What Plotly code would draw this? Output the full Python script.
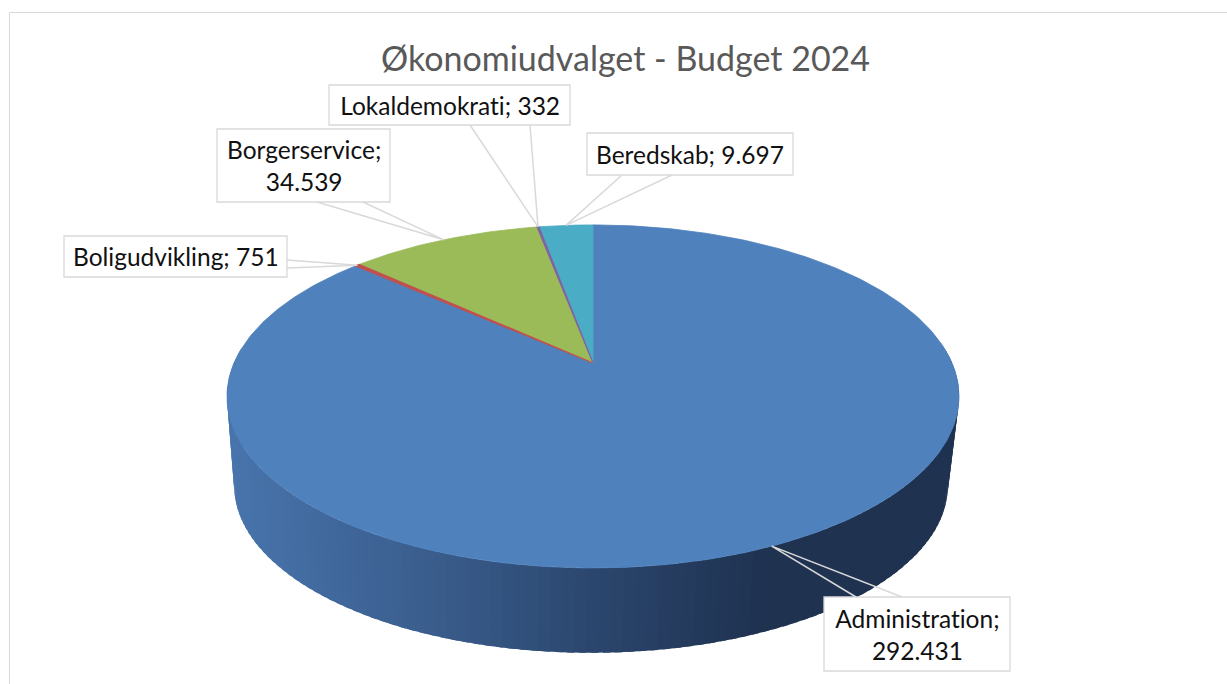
import numpy as np
import plotly.graph_objects as go

# ---------------- data ----------------
categories = ["Administration", "Boligudvikling", "Borgerservice", "Lokaldemokrati", "Beredskab"]
values = [292431, 751, 34539, 332, 9697]
colors = ["#4F81BD", "#C0504D", "#9BBB59", "#8064A2", "#4BACC6"]
title_text = "Økonomiudvalget - Budget 2024"

# ---------------- layout constants ----------------
W, H = 1227, 684
CX, CY = 593, 363          # projected pie centre (top face)
A, B, P = 359, 165, 0.195  # horizontal / vertical radius, perspective factor
CX_B, CY_B, S_B = 591, 453, 0.975  # bottom face

label_boxes = [(824, 597, 1010, 671), (64, 236, 287, 277), (217, 129, 390, 202),
               (329, 85, 570, 125), (587, 133, 793, 175)]
label_wrap = [True, False, True, False, False]
leader_bases = [((856, 597), (902, 597)), ((287, 260), (287, 268)), ((317, 202), (363, 202)),
                ((470, 125), (530, 125)), ((622, 175), (672, 175))]

FONT = "Lato, 'Open Sans', sans-serif"


def top(theta):
    u, v = np.sin(theta), np.cos(theta)
    d = 1 + P * v
    return CX + A * u / d, CY - B * v / d


def bot(theta):
    u, v = np.sin(theta), np.cos(theta)
    d = 1 + P * v
    return CX_B + S_B * A * u / d, CY_B - S_B * B * v / d


def fmt(v):
    return f"{v:,}".replace(",", ".")


stops = [(228, (72, 116, 172)), (420, (58, 94, 142)), (600, (42, 69, 108)),
         (760, (31, 50, 80)), (1300, (31, 50, 80))]


def side_color(x):
    for (x0, c0), (x1, c1) in zip(stops[:-1], stops[1:]):
        if x <= x1:
            t = max(0.0, (x - x0) / (x1 - x0))
            c = [round(a + (b - a) * t) for a, b in zip(c0, c1)]
            return f"rgb({c[0]},{c[1]},{c[2]})"
    return f"rgb{stops[-1][1]}"


fig = go.Figure()

# ---------------- side wall (front half) ----------------
total = sum(values)
ths = np.radians(np.linspace(85, 275, 121))
step = ths[1] - ths[0]
for a0, a1 in zip(ths[:-1], ths[1:]):
    a0e = a0 - step * 0.6  # overlap previous strip to hide seams
    sub = np.linspace(a0e, a1, 4)
    txs, tys = top(sub)
    bxs, bys = bot(sub[::-1])
    col = side_color(float(np.mean(txs)))
    xs = np.concatenate([txs, bxs, txs[:1]])
    ys = np.concatenate([tys, bys, tys[:1]])
    fig.add_trace(go.Scatter(x=xs, y=ys, mode="lines", fill="toself", fillcolor=col,
                             line=dict(width=0), hoverinfo="skip", showlegend=False))

# ---------------- top face slices ----------------
cum = np.concatenate([[0], np.cumsum(values)]) / total * 2 * np.pi
order = sorted(range(len(values)), key=lambda i: -values[i])
for i in order:
    a0, a1 = cum[i], cum[i + 1]
    n = max(3, int((a1 - a0) / (2 * np.pi) * 400))
    ang = np.linspace(a0, a1, n)
    xs, ys = top(ang)
    px = np.concatenate([[CX], xs, [CX]])
    py = np.concatenate([[CY], ys, [CY]])
    fig.add_trace(go.Scatter(x=px, y=py, mode="lines", fill="toself", fillcolor=colors[i],
                             line=dict(color=colors[i], width=0.8 if values[i] > 5000 else 1.2),
                             hoverinfo="skip", showlegend=False))

# ---------------- leader lines & labels ----------------
shapes = []
annotations = []
for i, cat in enumerate(categories):
    mid = (cum[i] + cum[i + 1]) / 2
    tx, ty = top(mid)
    (b1x, b1y), (b2x, b2y) = leader_bases[i]
    fig.add_trace(go.Scatter(x=[b1x, tx, b2x], y=[b1y, ty, b2y], mode="lines",
                             line=dict(color="#D9D9D9", width=1.5),
                             hoverinfo="skip", showlegend=False))
    x0, y0, x1, y1 = label_boxes[i]
    shapes.append(dict(type="rect", xref="x", yref="y", x0=x0, y0=y0, x1=x1, y1=y1,
                       line=dict(color="#D9D9D9", width=1.3), fillcolor="white", layer="above"))
    sep = ";<br>" if label_wrap[i] else "; "
    annotations.append(dict(x=(x0 + x1) / 2, y=(y0 + y1) / 2, xref="x", yref="y",
                            text=f"{cat}{sep}{fmt(values[i])}", showarrow=False,
                            font=dict(family=FONT, size=24.5, color="#111111"),
                            xanchor="center", yanchor="middle", align="center"))

# chart border
shapes.append(dict(type="rect", xref="x", yref="y", x0=9.5, y0=12.5, x1=1240, y1=700,
                   line=dict(color="#D9D9D9", width=1), fillcolor="rgba(0,0,0,0)", layer="above"))

annotations.append(dict(x=625, y=57, xref="x", yref="y", text=title_text, showarrow=False,
                        font=dict(family=FONT, size=34, color="#595959"),
                        xanchor="center", yanchor="middle"))

fig.update_layout(
    width=W, height=H, autosize=False,
    margin=dict(l=0, r=0, t=0, b=0),
    paper_bgcolor="white", plot_bgcolor="white",
    xaxis=dict(range=[0, W], visible=False, fixedrange=True),
    yaxis=dict(range=[H, 0], visible=False, fixedrange=True),
    shapes=shapes, annotations=annotations, hovermode=False,
)

post = (
    "document.body.style.margin='0';"
    "var st=document.createElement('style');"
    "st.textContent='text{font-variant-ligatures:none !important;"
    "font-feature-settings:\"liga\" 0,\"clig\" 0 !important;}';"
    "document.head.appendChild(st);"
)
fig.write_html("out.html", config={"displayModeBar": False}, post_script=post)
